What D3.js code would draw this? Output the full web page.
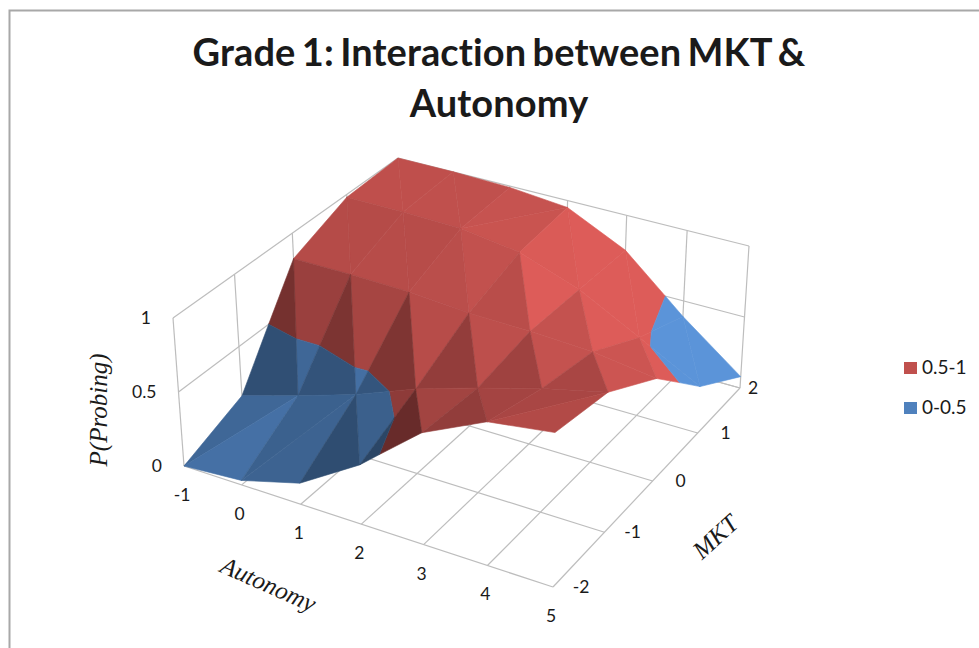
<!DOCTYPE html>
<html><head><meta charset="utf-8">
<script src="https://cdn.jsdelivr.net/npm/d3@7"></script>
<style>
html,body{margin:0;padding:0;background:#fff;overflow:hidden}
text{fill:#1a1a1a}
</style></head><body><svg id="c" width="979" height="648"></svg>
<script>
const autonomy = [-1,0,1,2,3,4,5];
const mkt = [-2,-1,0,1,2];
const zTicks = [0,0.5,1];
// P(Probing), one row for each MKT value, one column for each Autonomy value
const rowMktM2 = [0.00,0.03,0.14,0.39,0.73,0.93,0.99];
const rowMktM1 = [0.16,0.28,0.41,0.57,0.70,0.82,0.92];
const rowMkt0  = [0.82,0.82,0.81,0.78,0.77,0.75,0.69];
const rowMkt1  = [0.98,0.98,0.97,0.91,0.76,0.54,0.32];
const rowMkt2  = [1.00,1.00,0.99,0.95,0.75,0.39,0.08];
const rows = [rowMktM2,rowMktM1,rowMkt0,rowMkt1,rowMkt2];
const bands = [{name:"0.5-1",lo:0.5,hi:1,color:"#c0504d"},{name:"0-0.5",lo:0,hi:0.5,color:"#4f81bd"}];
const title = ["Grade 1: Interaction between MKT &","Autonomy"];

const svg = d3.select("#c");
// frame
svg.append("path").attr("d","M9.5,648V10.5H979").attr("fill","none").attr("stroke","#a8a8a8").attr("stroke-width",2);

// projection: perspective mapping of the unit floor and the unit ceiling to the picture
const u = d3.scaleLinear().domain(d3.extent(autonomy)).range([0,1]);
const v = d3.scaleLinear().domain(d3.extent(mkt)).range([0,1]);
const w = d3.scaleLinear().domain([0,1]).range([0,1]);
function homography(p){ // p: corners for (0,0),(1,0),(1,1),(0,1)
  const [[x0,y0],[x1,y1],[x2,y2],[x3,y3]] = p;
  const dx1=x1-x2,dx2=x3-x2,sx=x0-x1+x2-x3,dy1=y1-y2,dy2=y3-y2,sy=y0-y1+y2-y3;
  const det=dx1*dy2-dx2*dy1;
  const g=(sx*dy2-dx2*sy)/det,h=(dx1*sy-sx*dy1)/det;
  const a=x1-x0+g*x1,b=x3-x0+h*x3,d=y1-y0+g*y1,e=y3-y0+h*y3;
  return (s,t)=>{const q=g*s+h*t+1;return [(a*s+b*t+x0)/q,(d*s+e*t+y0)/q];};
}
const floorH = homography([[184,466],[553,587],[740,388],[401,294]]);
const ceilH  = homography([[173,318],[555,431],[749,246],[398,158]]);
function P(a,m,z){
  const s=u(a),t=v(m),k=w(z),f=floorH(s,t),c=ceilH(s,t);
  return [f[0]+(c[0]-f[0])*k,f[1]+(c[1]-f[1])*k];
}
const line = d3.line();
const gridG = svg.append("g").attr("fill","none").attr("stroke","#bdbdbd").attr("stroke-width",1.2);
function seg(a,b){gridG.append("path").attr("d",line([a,b]));}
const [aMin,aMax]=d3.extent(autonomy),[mMin,mMax]=d3.extent(mkt);
mkt.forEach(m=>seg(P(aMin,m,0),P(aMax,m,0)));
autonomy.forEach(a=>seg(P(a,mMin,0),P(a,mMax,0)));
// left wall (Autonomy minimum), back wall (MKT maximum)
mkt.forEach(m=>seg(P(aMin,m,0),P(aMin,m,1)));
autonomy.forEach(a=>seg(P(a,mMax,0),P(a,mMax,1)));
zTicks.forEach(z=>{seg(P(aMin,mMin,z),P(aMin,mMax,z));seg(P(aMin,mMax,z),P(aMax,mMax,z));});

// surface
const surf = svg.append("g");
function clipZ(tri,lo,hi){
  const cut=(pts,keep,val)=>{const out=[];pts.forEach((p,i)=>{const q=pts[(i+1)%pts.length];
    const kp=keep(p[2]),kq=keep(q[2]);
    if(kp)out.push(p);
    if(kp!==kq){const f=(val-p[2])/(q[2]-p[2]);out.push([p[0]+f*(q[0]-p[0]),p[1]+f*(q[1]-p[1]),val]);}
  });return out;};
  let r=cut(tri,z=>z>=lo,lo);
  if(r.length) r=cut(r,z=>z<=hi,hi);
  return r;
}
function shade(tri){
  // gradient of the facet in axis units
  const [p,q,r]=tri;
  const ax=q[0]-p[0],ay=q[1]-p[1],az=q[2]-p[2],bx=r[0]-p[0],by=r[1]-p[1],bz=r[2]-p[2];
  const nx=ay*bz-az*by,ny=az*bx-ax*bz,nz=ax*by-ay*bx;
  const gA=-nx/nz,gM=-ny/nz;
  return Math.max(0.54,Math.min(1.15,1-(gA>0?1.2:1.0)*gA-0.37*Math.max(gM,0)));
}
function drawTri(tri){
  const b=shade(tri);
  bands.forEach(bd=>{
    const poly=clipZ(tri,bd.lo,bd.hi);
    if(poly.length<3)return;
    const c=d3.rgb(bd.color);
    const col=d3.rgb(Math.min(255,c.r*b),Math.min(255,c.g*b),Math.min(255,c.b*b)).formatHex();
    surf.append("path").attr("d",line(poly.map(p=>P(p[0],p[1],p[2])))+"Z").attr("fill",col).attr("stroke",col).attr("stroke-width",0.6).attr("stroke-linejoin","round");
  });
}
for(let j=mkt.length-2;j>=0;j--){
  for(let i=0;i<autonomy.length-1;i++){
    const A0=autonomy[i],A1=autonomy[i+1],M0=mkt[j],M1=mkt[j+1];
    const a=[A0,M0,rows[j][i]],b=[A1,M0,rows[j][i+1]],c=[A1,M1,rows[j+1][i+1]],d=[A0,M1,rows[j+1][i]];
    if(a[2]+c[2]>b[2]+d[2]){ drawTri([a,c,d]); drawTri([a,b,c]); }
    else { drawTri([d,b,c]); drawTri([a,b,d]); }
  }
}

// labels
const font="Lato, 'Open Sans', sans-serif";
const tg=svg.append("g").attr("font-family",font).attr("font-weight",700).attr("font-size",38).attr("text-anchor","middle").attr("word-spacing",-3).attr("letter-spacing",0.1);
title.forEach((t,i)=>tg.append("text").attr("x",499).attr("y",i===0?65.5:116.5).text(t));
const lab=svg.append("g").attr("font-family",font).attr("font-size",17.5).attr("text-anchor","middle");
autonomy.forEach(a=>{const p=P(a,mMin,0);lab.append("text").attr("x",p[0]-2).attr("y",p[1]+35).text(a);});
mkt.forEach(m=>{const p=P(aMax,m,0);lab.append("text").attr("x",p[0]+(m===mMax?13:28)).attr("y",p[1]+6).text(m);});
zTicks.forEach(z=>{const p=P(aMin,mMin,z);lab.append("text").attr("x",p[0]-22).attr("y",p[1]+6).attr("text-anchor","end").text(z);});
const serif="'Liberation Serif', serif";
const at=svg.append("g").attr("font-family",serif).attr("font-style","italic").attr("font-size",25).attr("text-anchor","middle");
at.append("text").attr("transform","translate(107,410) rotate(-90)").text("P(Probing)");
at.append("text").attr("transform","translate(265,592) rotate(24)").text("Autonomy");
at.append("text").attr("transform","translate(721,543) rotate(-42)").text("MKT");
const lg=svg.append("g").attr("font-family",font).attr("font-size",19);
bands.forEach((bd,i)=>{
  lg.append("rect").attr("x",904).attr("y",362+i*40).attr("width",13).attr("height",12).attr("fill",bd.color);
  lg.append("text").attr("x",922).attr("y",374+i*40).text(bd.name);
});
</script></body></html>
